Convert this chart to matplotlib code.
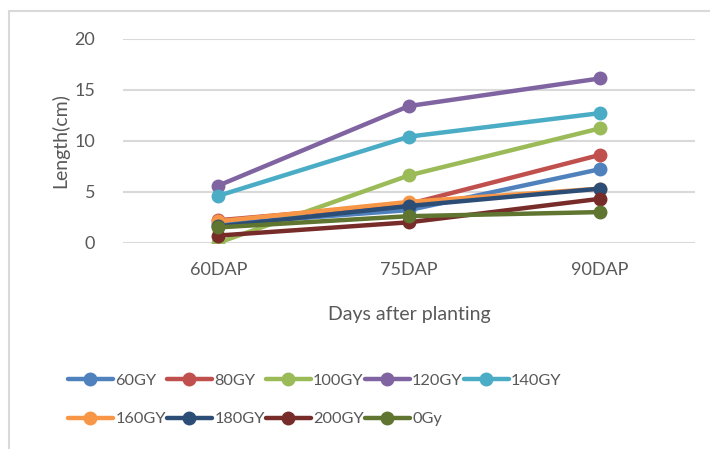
import matplotlib
matplotlib.use('Agg')
import matplotlib.pyplot as plt
from matplotlib.patches import Rectangle

# data
stages = ['60DAP', '75DAP', '90DAP']
series_names = ['60GY', '80GY', '100GY', '120GY', '140GY',
                '160GY', '180GY', '200GY', '0Gy']
gy60 = [1.8, 3.2, 7.2]
gy80 = [2.2, 3.8, 8.6]
gy100 = [0.0, 6.6, 11.2]
gy120 = [5.6, 13.4, 16.1]
gy140 = [4.6, 10.4, 12.7]
gy160 = [2.1, 4.0, 5.3]
gy180 = [1.6, 3.6, 5.3]
gy200 = [0.7, 2.0, 4.3]
gy0 = [1.5, 2.6, 3.0]
series_values = [gy60, gy80, gy100, gy120, gy140, gy160, gy180, gy200, gy0]
colors = ['#4F81BD', '#C0504D', '#9BBB59', '#8064A2', '#4BACC6',
          '#F79646', '#2C4D75', '#772C2A', '#5F7530']

text_col = '#595959'
plt.rcParams['font.family'] = ['Lato', 'DejaVu Sans']

fig = plt.figure(figsize=(7.1, 4.49), dpi=100)
# outer chart border
fig.patches.append(Rectangle((9 / 710, -0.05), 1.1, 1 - 11 / 449 + 0.05,
                             transform=fig.transFigure, fill=False,
                             edgecolor='#D9D9D9', linewidth=1.5))

ax = fig.add_axes([123 / 710, 1 - 242.7 / 449, 572 / 710, (242.7 - 38.7) / 449])
x = list(range(len(stages)))
lines = []
for name, vals, c in zip(series_names, series_values, colors):
    ln, = ax.plot(x, vals, color=c, lw=3.2, marker='o', markersize=9,
                  solid_capstyle='round', label=name)
    lines.append(ln)

ax.set_xlim(-0.5, 2.5)
ax.set_ylim(0, 20)
ax.set_yticks([0, 5, 10, 15, 20])
ax.set_xticks(x)
ax.set_xticklabels(stages)
ax.grid(axis='y', color='#D9D9D9', lw=1.5)
ax.set_axisbelow(True)
for s in ax.spines.values():
    s.set_visible(False)
ax.tick_params(length=0, labelsize=13, colors=text_col)
ax.tick_params(axis='y', pad=20)
ax.tick_params(axis='x', pad=14)

ax.set_ylabel('Length(cm)', fontsize=14, color=text_col, labelpad=4)
ax.set_xlabel('Days after planting', fontsize=14, color=text_col, labelpad=20)

# legend fills column by column, so interleave to get Excel's row order
order = [0, 5, 1, 6, 2, 7, 3, 8, 4]
fig.legend([lines[i] for i in order], [series_names[i] for i in order],
           loc='upper left', bbox_to_anchor=(53 / 710, 1 - 359 / 449), ncol=5,
           frameon=False, fontsize=11.8, handlelength=2.75, handletextpad=0.15,
           columnspacing=0.05, labelspacing=1.45, labelcolor=text_col)

plt.savefig('out.png', dpi=100)
plt.close()
